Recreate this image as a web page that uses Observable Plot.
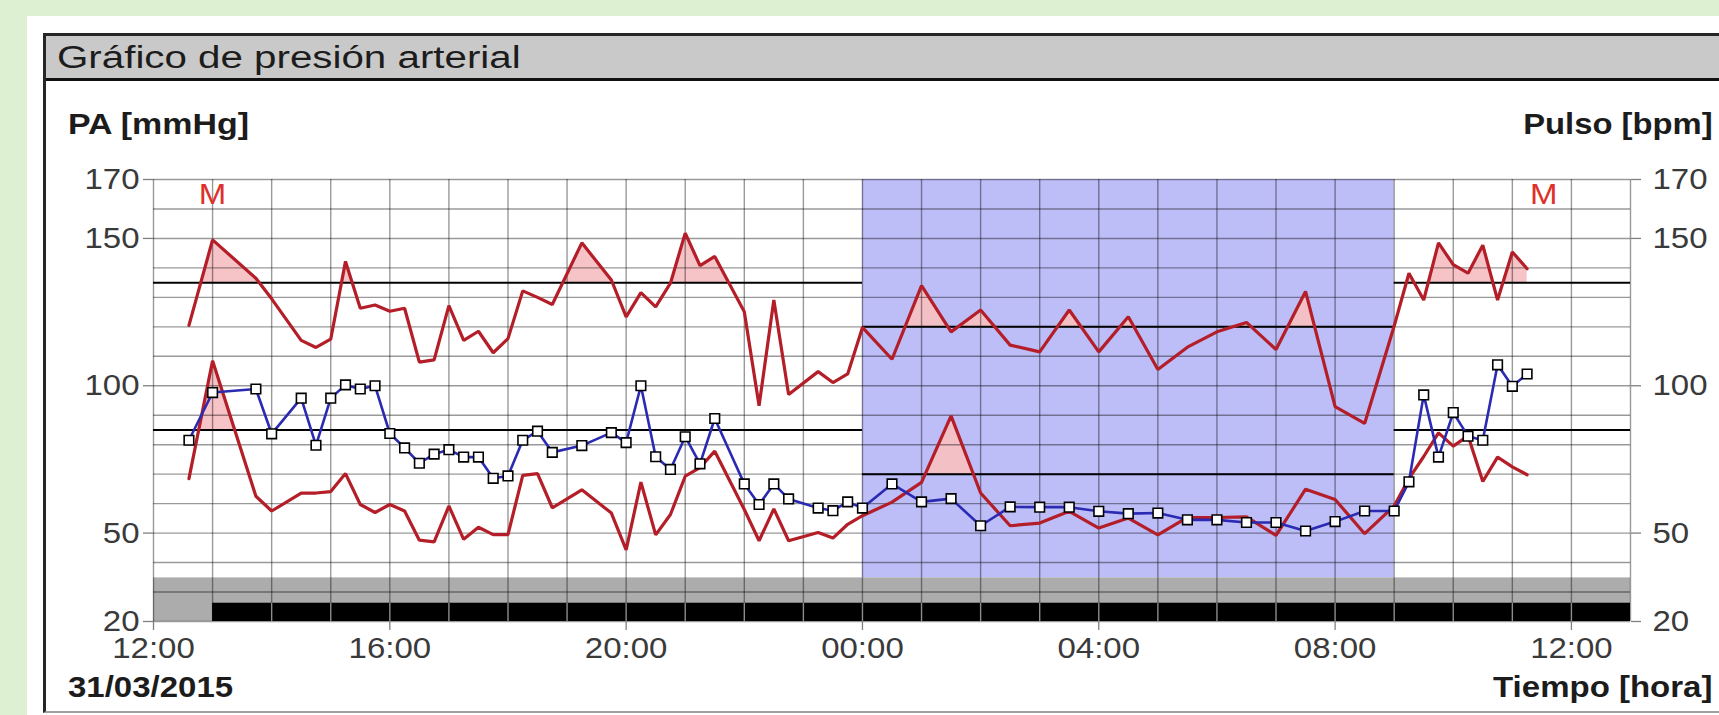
<!DOCTYPE html>
<html>
<head>
<meta charset="utf-8">
<script src="https://cdn.jsdelivr.net/npm/d3@7"></script>
<script src="https://cdn.jsdelivr.net/npm/@observablehq/plot@0.6"></script>
<style>
  html, body { margin:0; padding:0; width:1719px; height:715px; overflow:hidden; background:#DDF0D1; }
  body { position:relative; font-family:"Liberation Sans", Arial, Helvetica, sans-serif; }
  #panel { position:absolute; left:27px; top:16px; width:1720px; height:720px; background:#fff; }
  #box { position:absolute; left:43px; top:33px; width:1700px; height:680px; box-sizing:border-box;
         border-left:3px solid #262626; border-top:3px solid #262626; border-bottom:2px solid #a0a0a0; }
  #titlebar { position:absolute; left:46px; top:36px; width:1700px; height:42px; background:#C9C9C9; border-bottom:3px solid #111; }
  .t { position:absolute; white-space:nowrap; line-height:1; color:#1c1c1c; }
  .t span { display:inline-block; transform:scaleX(1.1); }
  .l span { transform-origin:left center; }
  .r span { transform-origin:right center; }
  #chart { position:absolute; left:0; top:0; }
</style>
</head>
<body>
<div id="panel"></div>
<div id="box"></div>
<div id="titlebar"></div>
<div class="t l" style="left:57px; top:42px; font-size:31px;"><span style="transform:scaleX(1.3)">Gráfico de presión arterial</span></div>
<div class="t l" style="left:68px; top:110px; font-size:29px; font-weight:bold;"><span style="transform:scaleX(1.17)">PA [mmHg]</span></div>
<div class="t r" style="right:6px; top:110px; font-size:29px; font-weight:bold;"><span style="transform:scaleX(1.13)">Pulso [bpm]</span></div>
<div class="t l" style="left:68px; top:672px; font-size:30px; font-weight:bold;"><span style="transform:scaleX(1.1)">31/03/2015</span></div>
<div class="t r" style="right:7px; top:672px; font-size:30px; font-weight:bold;"><span>Tiempo [hora]</span></div>
<div id="chart"></div>
<script>
// ---------------- data ----------------
const times = ["12:36","13:00","13:44","14:00","14:30","14:45","15:00","15:15","15:30","15:45",
  "16:00","16:15","16:30","16:45","17:00","17:15","17:30","17:45","18:00","18:15",
  "18:30","18:45","19:15","19:45","20:00","20:15","20:30","20:45","21:00","21:15",
  "21:30","22:00","22:15","22:30","22:45","23:15","23:30","23:45","00:00","00:30",
  "01:00","01:30","02:00","02:30","03:00","03:30","04:00","04:30","05:00","05:30",
  "06:00","06:30","07:00","07:30","08:00","08:30","09:00","09:15","09:30","09:45",
  "10:00","10:15","10:30","10:45","11:00","11:15"];
const systolic = [120.5,149.5,136.5,129.5,115.4,113,115.8,142.2,126.3,127.4,
  125.3,126.3,108,108.8,127.2,115.4,118.5,111.2,116,132.2,
  130,127.6,148.5,135.9,123.4,131.6,126.8,134.8,151.8,140.8,
  143.9,125.1,93.2,129.1,97,104.8,101.1,104,119.8,109,
  134,118.3,125.7,113.8,111.5,125.7,111.5,123.4,105.5,113.1,
  118.3,121.5,112.3,132,92.9,87.2,120.3,138.2,129.1,148.5,
  141.1,138.2,147.7,129.1,145.4,139.7];
const diastolic = [68.5,108.5,62.5,57.5,63.6,63.6,64.1,70.2,59.7,57,
  59.7,57.5,47.6,47,59.2,47.9,52,49.5,49.5,69.6,
  70.2,58.6,64.7,56.8,44.3,67.3,49.4,56.3,69.3,72.2,
  77.8,58,47.4,58.2,47.4,50.2,48.3,53,55.9,60.5,
  67.2,89.8,63.6,52.5,53.4,57.4,51.7,55.1,49.4,55.3,
  55.3,55.5,49.2,64.9,61.4,49.8,59.2,68.5,76,84,
  79.5,83,67.5,75.8,72.5,69.8];
const pulse = [81.5,97.7,98.9,83.7,95.8,79.8,95.8,100.3,98.9,100,
  83.8,78.9,73.7,76.8,78.3,75.8,75.8,68.6,69.4,81.5,
  84.6,77.4,79.7,84.1,80.7,100,75.9,71.6,82.7,73.5,
  88.9,66.7,59.7,66.7,61.6,58.5,57.6,60.6,58.5,66.7,
  60.6,61.7,52.5,58.9,58.8,58.8,57.4,56.6,56.8,54.5,
  54.5,53.6,53.6,50.7,53.9,57.5,57.5,67.4,96.9,75.8,
  90.9,82.9,81.5,107.1,99.8,104];

const axisRange = ["2015-03-31T12:00", "2015-04-01T13:00"];
const nightPeriod = ["2015-04-01T00:00", "2015-04-01T09:00"];
const recordingBar = ["2015-03-31T13:00", "2015-04-01T13:00"];
const limitStarts = ["2015-03-31T12:00", "2015-04-01T00:00", "2015-04-01T09:00"];
const limitEnds   = ["2015-04-01T00:00", "2015-04-01T09:00", "2015-04-01T13:00"];
const sysLimits = [135, 120, 135];
const diaLimits = [85, 70, 85];
const markerTimes = ["2015-03-31T13:00", "2015-04-01T11:32"];
const markerLabels = ["M", "M"];
const yTicks = [20, 50, 100, 150, 170];
const yGrid = [20, 30, 40, 50, 60, 70, 80, 90, 100, 110, 120, 130, 140, 150, 160, 170];

// ---------------- helpers ----------------
const parse = s => new Date(s + ":00Z");
let day = 31, prevH = -1;
const dates = times.map(s => {
  const [h, m] = s.split(":").map(Number);
  if (h < prevH) day = 32;
  prevH = h;
  return new Date(Date.UTC(2015, 2, day, h, m));
});
const rows = dates.map((t, i) => ({t, sys: systolic[i], dia: diastolic[i], pul: pulse[i]}));

function clipSeries(ts, vs, a, b) {
  const out = [];
  for (let i = 0; i < ts.length - 1; i++) {
    const t0 = ts[i], t1 = ts[i + 1], v0 = vs[i], v1 = vs[i + 1];
    if (t1 <= a || t0 >= b) continue;
    const s = Math.max(t0, a), e = Math.min(t1, b);
    const f = t => v0 + (v1 - v0) * (t - t0) / (t1 - t0);
    if (!out.length || out[out.length - 1][0] !== s) out.push([s, f(s)]);
    out.push([e, f(e)]);
  }
  return out;
}
function overArea(poly, thr, z) {
  const res = [];
  for (let i = 0; i < poly.length; i++) {
    const [t, v] = poly[i];
    if (i > 0) {
      const [tp, vp] = poly[i - 1];
      if ((vp - thr) * (v - thr) < 0) {
        const tc = tp + (t - tp) * (thr - vp) / (v - vp);
        res.push({t: new Date(tc), lo: thr, hi: thr, z});
      }
    }
    res.push({t: new Date(t), lo: thr, hi: Math.max(v, thr), z});
  }
  return res;
}
const tsNum = dates.map(d => +d);
let fillPts = [];
limitStarts.forEach((s, i) => {
  const a = +parse(s), b = +parse(limitEnds[i]);
  fillPts = fillPts.concat(overArea(clipSeries(tsNum, systolic, a, b), sysLimits[i], "s" + i));
  fillPts = fillPts.concat(overArea(clipSeries(tsNum, diastolic, a, b), diaLimits[i], "d" + i));
});

const x0 = parse(axisRange[0]), x1 = parse(axisRange[1]);
const hourGrid = d3.utcHour.range(x0, new Date(+x1 + 1));
const xTicks = d3.utcHour.every(4).range(x0, new Date(+x1 + 1));
const barStart = parse(recordingBar[0]);

const RED = "#b41e28", BLUE = "#2a2ab2", GRID = "#000";
const BAND_TOP = 34.8, BAR_TOP = 26.2;

const limitIdx = d3.range(limitStarts.length);

const chart = Plot.plot({
  width: 1719, height: 715,
  marginLeft: 153, marginRight: 89, marginTop: 179, marginBottom: 94,
  style: {background: "transparent", fontFamily: '"Liberation Sans", Arial, sans-serif', fontSize: "30px", overflow: "visible"},
  x: {type: "utc", domain: [x0, x1]},
  y: {domain: [20, 170]},
  marks: [
    Plot.rect([{a: parse(nightPeriod[0]), b: parse(nightPeriod[1])}], {x1: "a", x2: "b", y1: BAND_TOP, y2: 170, fill: "#bdbdf7"}),
    Plot.rect([{a: x0, b: x1}], {x1: "a", x2: "b", y1: 20, y2: BAND_TOP, fill: "#acacac"}),
    Plot.rect([{a: barStart, b: parse(recordingBar[1])}], {x1: "a", x2: "b", y1: 20, y2: BAR_TOP, fill: "#000"}),
    Plot.areaY(fillPts, {x: "t", y1: "lo", y2: "hi", z: "z", fill: "#f6c0c3", fillOpacity: 0.95, curve: "linear"}),
    Plot.ruleY(yGrid, {stroke: GRID, strokeOpacity: 0.4, strokeWidth: 1.4}),
    Plot.ruleX(hourGrid, {y1: 20, y2: 170, stroke: GRID, strokeOpacity: 0.4, strokeWidth: 1.4}),
    Plot.ruleX(hourGrid.filter(t => t > barStart && t < x1), {y1: 20, y2: BAR_TOP, stroke: "#8c8c8c", strokeWidth: 1.4}),
    Plot.ruleY(limitIdx, {x1: i => parse(limitStarts[i]), x2: i => parse(limitEnds[i]), y: i => sysLimits[i], stroke: "#000", strokeWidth: 2}),
    Plot.ruleY(limitIdx, {x1: i => parse(limitStarts[i]), x2: i => parse(limitEnds[i]), y: i => diaLimits[i], stroke: "#000", strokeWidth: 2}),
    Plot.line(rows, {x: "t", y: "sys", stroke: RED, strokeWidth: 3.2, strokeLinejoin: "miter", curve: "linear"}),
    Plot.line(rows, {x: "t", y: "dia", stroke: RED, strokeWidth: 3.2, strokeLinejoin: "miter", curve: "linear"}),
    Plot.line(rows, {x: "t", y: "pul", stroke: BLUE, strokeWidth: 2.6, strokeLinejoin: "miter", curve: "linear"}),
    Plot.dot(rows, {x: "t", y: "pul", symbol: "square", r: 5.4, fill: "#fff", stroke: "#000", strokeWidth: 1.6}),
    Plot.text(markerTimes.map((s, i) => ({t: parse(s), label: markerLabels[i]})), {x: "t", y: 165, text: "label", fill: "#e0302c", fontSize: 30, lineAnchor: "middle"}),
    Plot.axisY({anchor: "left", ticks: yTicks, tickSize: 10, tickPadding: 4, label: null, color: "#3a3a3a", stroke: "#808080", strokeWidth: 1.3}),
    Plot.axisY({anchor: "right", ticks: yTicks, tickSize: 10, tickPadding: 12, label: null, color: "#3a3a3a", stroke: "#808080", strokeWidth: 1.3}),
    Plot.axisX({anchor: "bottom", ticks: xTicks, tickFormat: d3.utcFormat("%H:%M"), tickSize: 9, tickPadding: 6, label: null, color: "#3a3a3a", stroke: "#808080", strokeWidth: 1.3})
  ]
});
// horizontal stretch of texts to match the reference lettering
chart.querySelectorAll("text").forEach(el => {
  const tr = el.getAttribute("transform");
  if (tr) {
    el.setAttribute("transform", tr + " scale(1.1,1)");
  } else {
    const x = parseFloat(el.getAttribute("x"));
    if (isFinite(x)) el.setAttribute("transform", `translate(${x},0) scale(1.1,1) translate(${-x},0)`);
  }
});
document.getElementById("chart").appendChild(chart);
</script>
</body>
</html>
